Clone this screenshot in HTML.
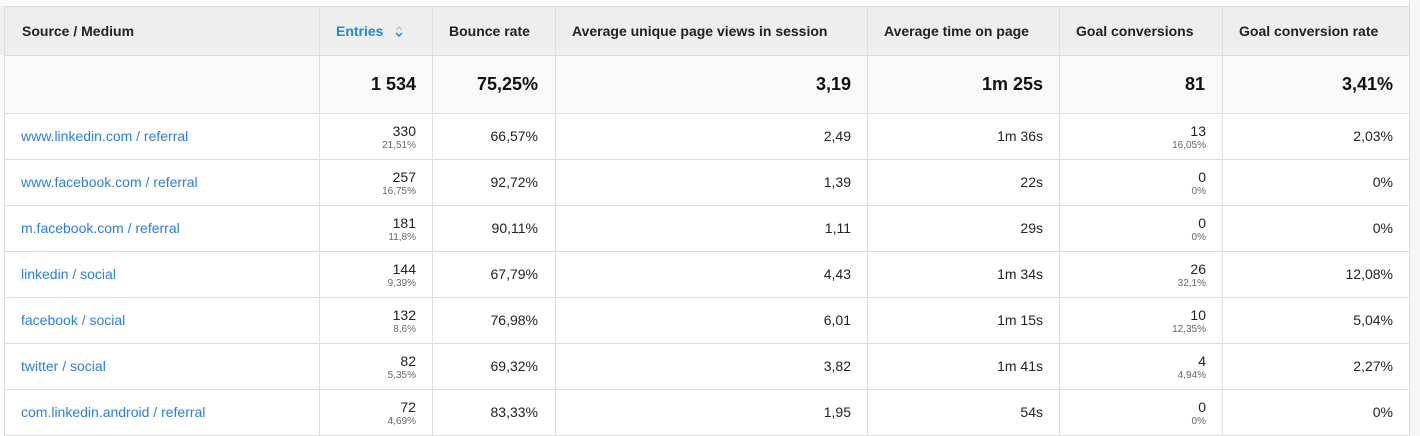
<!DOCTYPE html>
<html>
<head>
<meta charset="utf-8">
<style>
  html,body{margin:0;padding:0;}
  body{width:1420px;height:436px;position:relative;overflow:hidden;background:#fafafa;font-family:"Liberation Sans",Arial,sans-serif;color:#222;}
  .abs{position:absolute;}
  .hl{position:absolute;left:4px;width:1406px;height:1px;background:#dedede;}
  .vl{position:absolute;width:1px;background:#dedede;}
  .hdr{position:absolute;top:7px;height:48px;line-height:49px;font-size:14px;font-weight:bold;color:#222;white-space:nowrap;}
  .tot{position:absolute;top:55px;height:58px;line-height:58px;font-size:18px;font-weight:bold;color:#111;text-align:right;white-space:nowrap;}
  .c{position:absolute;height:46px;line-height:46px;font-size:14px;text-align:right;white-space:nowrap;color:#222;}
  .lk{position:absolute;height:46px;line-height:46px;font-size:14px;color:#2b7de9;white-space:nowrap;left:21px;}
  .m{position:absolute;font-size:14px;line-height:14px;text-align:right;white-space:nowrap;color:#222;}
  .s{position:absolute;font-size:10px;line-height:10px;text-align:right;white-space:nowrap;color:#666;}
</style>
</head>
<body>
<div class="abs" style="left:4px;top:6px;width:1406px;height:49px;background:#eeeeee;"></div>
<div class="abs" style="left:0px;top:6px;width:4px;height:49px;background:#efefef;"></div>
<div class="abs" style="left:4px;top:55px;width:1406px;height:58px;background:#f9f9f9;"></div>
<div class="abs" style="left:0px;top:113px;width:1410px;height:323px;background:#ffffff;"></div>
<div class="abs" style="left:0px;top:55px;width:4px;height:58px;background:#fbfbfb;"></div>
<div class="abs" style="left:1410px;top:0px;width:10px;height:436px;background:#f6f6f6;"></div>

<div class="hl" style="top:6px;"></div>
<div class="hl" style="top:55px;"></div>
<div class="hl" style="top:113px;"></div>
<div class="hl" style="top:159px;"></div>
<div class="hl" style="top:205px;"></div>
<div class="hl" style="top:251px;"></div>
<div class="hl" style="top:297px;"></div>
<div class="hl" style="top:343px;"></div>
<div class="hl" style="top:389px;"></div>
<div class="hl" style="top:435px;"></div>

<div class="vl" style="left:4px;top:6px;height:430px;"></div>
<div class="vl" style="left:319px;top:6px;height:430px;"></div>
<div class="vl" style="left:432px;top:6px;height:430px;"></div>
<div class="vl" style="left:555px;top:6px;height:430px;"></div>
<div class="vl" style="left:867px;top:6px;height:430px;"></div>
<div class="vl" style="left:1059px;top:6px;height:430px;"></div>
<div class="vl" style="left:1222px;top:6px;height:430px;"></div>
<div class="vl" style="left:1409px;top:0px;height:436px;"></div>

<div class="hdr" style="left:22px;">Source / Medium</div>
<div class="hdr" style="left:336px;color:#1e88e5;">Entries</div>
<svg class="abs" style="left:394px;top:25px;" width="10" height="13" viewBox="0 0 10 13">
  <polyline points="2,5 5,2 8,5" fill="none" stroke="#a9c8ef" stroke-width="1.4"/>
  <polyline points="2,8 5,11 8,8" fill="none" stroke="#1e88e5" stroke-width="1.4"/>
</svg>
<div class="hdr" style="left:449px;">Bounce rate</div>
<div class="hdr" style="left:572px;">Average unique page views in session</div>
<div class="hdr" style="left:884px;">Average time on page</div>
<div class="hdr" style="left:1076px;">Goal conversions</div>
<div class="hdr" style="left:1239px;">Goal conversion rate</div>

<div class="tot" style="left:320px;width:96px;">1 534</div>
<div class="tot" style="left:433px;width:105px;">75,25%</div>
<div class="tot" style="left:556px;width:295px;">3,19</div>
<div class="tot" style="left:868px;width:175px;">1m 25s</div>
<div class="tot" style="left:1060px;width:145px;">81</div>
<div class="tot" style="left:1223px;width:170px;">3,41%</div>

<!-- row 1 -->
<div class="lk" style="top:113px;">www.linkedin.com / referral</div>
<div class="m" style="left:320px;width:96px;top:124px;">330</div>
<div class="s" style="left:320px;width:96px;top:140.5px;">21,51%</div>
<div class="c" style="left:433px;width:105px;top:113px;">66,57%</div>
<div class="c" style="left:556px;width:295px;top:113px;">2,49</div>
<div class="c" style="left:868px;width:175px;top:113px;">1m 36s</div>
<div class="m" style="left:1060px;width:146px;top:124px;">13</div>
<div class="s" style="left:1060px;width:146px;top:140.5px;">16,05%</div>
<div class="c" style="left:1223px;width:170px;top:113px;">2,03%</div>

<!-- row 2 -->
<div class="lk" style="top:159px;">www.facebook.com / referral</div>
<div class="m" style="left:320px;width:96px;top:170px;">257</div>
<div class="s" style="left:320px;width:96px;top:186.5px;">16,75%</div>
<div class="c" style="left:433px;width:105px;top:159px;">92,72%</div>
<div class="c" style="left:556px;width:295px;top:159px;">1,39</div>
<div class="c" style="left:868px;width:175px;top:159px;">22s</div>
<div class="m" style="left:1060px;width:146px;top:170px;">0</div>
<div class="s" style="left:1060px;width:146px;top:186.5px;">0%</div>
<div class="c" style="left:1223px;width:170px;top:159px;">0%</div>

<!-- row 3 -->
<div class="lk" style="top:205px;">m.facebook.com / referral</div>
<div class="m" style="left:320px;width:96px;top:216px;">181</div>
<div class="s" style="left:320px;width:96px;top:232.5px;">11,8%</div>
<div class="c" style="left:433px;width:105px;top:205px;">90,11%</div>
<div class="c" style="left:556px;width:295px;top:205px;">1,11</div>
<div class="c" style="left:868px;width:175px;top:205px;">29s</div>
<div class="m" style="left:1060px;width:146px;top:216px;">0</div>
<div class="s" style="left:1060px;width:146px;top:232.5px;">0%</div>
<div class="c" style="left:1223px;width:170px;top:205px;">0%</div>

<!-- row 4 -->
<div class="lk" style="top:251px;">linkedin / social</div>
<div class="m" style="left:320px;width:96px;top:262px;">144</div>
<div class="s" style="left:320px;width:96px;top:278.5px;">9,39%</div>
<div class="c" style="left:433px;width:105px;top:251px;">67,79%</div>
<div class="c" style="left:556px;width:295px;top:251px;">4,43</div>
<div class="c" style="left:868px;width:175px;top:251px;">1m 34s</div>
<div class="m" style="left:1060px;width:146px;top:262px;">26</div>
<div class="s" style="left:1060px;width:146px;top:278.5px;">32,1%</div>
<div class="c" style="left:1223px;width:170px;top:251px;">12,08%</div>

<!-- row 5 -->
<div class="lk" style="top:297px;">facebook / social</div>
<div class="m" style="left:320px;width:96px;top:308px;">132</div>
<div class="s" style="left:320px;width:96px;top:324.5px;">8,6%</div>
<div class="c" style="left:433px;width:105px;top:297px;">76,98%</div>
<div class="c" style="left:556px;width:295px;top:297px;">6,01</div>
<div class="c" style="left:868px;width:175px;top:297px;">1m 15s</div>
<div class="m" style="left:1060px;width:146px;top:308px;">10</div>
<div class="s" style="left:1060px;width:146px;top:324.5px;">12,35%</div>
<div class="c" style="left:1223px;width:170px;top:297px;">5,04%</div>

<!-- row 6 -->
<div class="lk" style="top:343px;">twitter / social</div>
<div class="m" style="left:320px;width:96px;top:354px;">82</div>
<div class="s" style="left:320px;width:96px;top:370.5px;">5,35%</div>
<div class="c" style="left:433px;width:105px;top:343px;">69,32%</div>
<div class="c" style="left:556px;width:295px;top:343px;">3,82</div>
<div class="c" style="left:868px;width:175px;top:343px;">1m 41s</div>
<div class="m" style="left:1060px;width:146px;top:354px;">4</div>
<div class="s" style="left:1060px;width:146px;top:370.5px;">4,94%</div>
<div class="c" style="left:1223px;width:170px;top:343px;">2,27%</div>

<!-- row 7 -->
<div class="lk" style="top:389px;">com.linkedin.android / referral</div>
<div class="m" style="left:320px;width:96px;top:400px;">72</div>
<div class="s" style="left:320px;width:96px;top:416.5px;">4,69%</div>
<div class="c" style="left:433px;width:105px;top:389px;">83,33%</div>
<div class="c" style="left:556px;width:295px;top:389px;">1,95</div>
<div class="c" style="left:868px;width:175px;top:389px;">54s</div>
<div class="m" style="left:1060px;width:146px;top:400px;">0</div>
<div class="s" style="left:1060px;width:146px;top:416.5px;">0%</div>
<div class="c" style="left:1223px;width:170px;top:389px;">0%</div>
</body>
</html>
